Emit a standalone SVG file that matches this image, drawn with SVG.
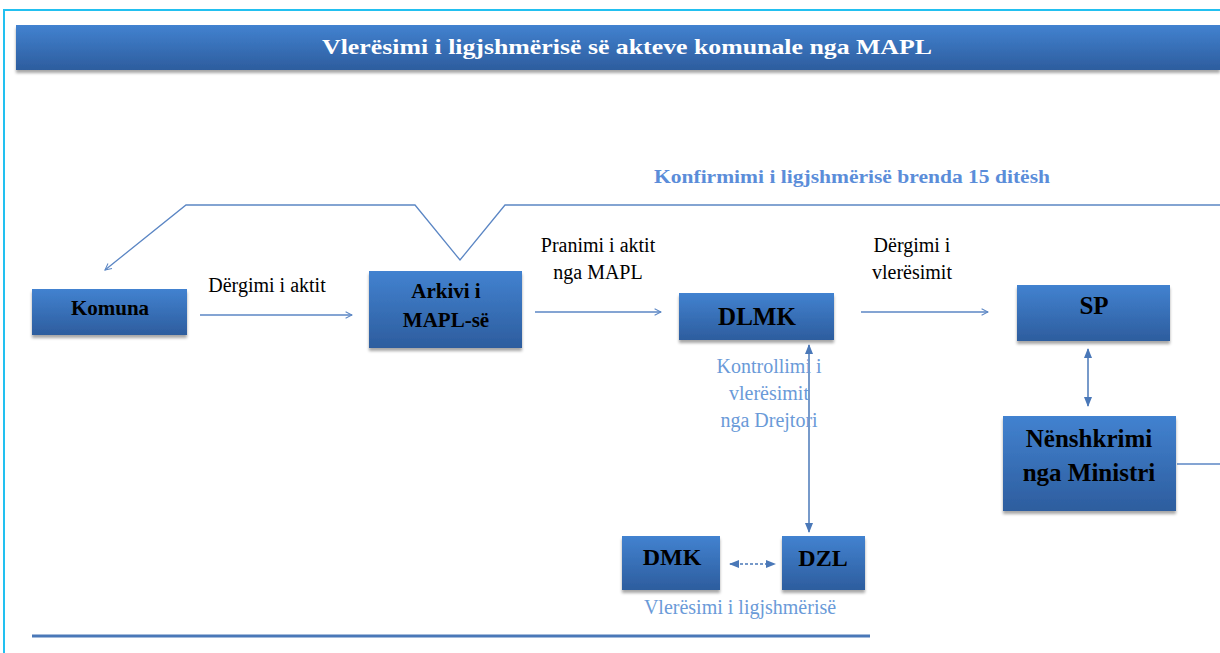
<svg xmlns="http://www.w3.org/2000/svg" width="1220" height="653" viewBox="0 0 1220 653" font-family="Liberation Serif, Times New Roman, serif">
<defs>
<linearGradient id="g" x1="0" y1="0" x2="0" y2="1">
<stop offset="0" stop-color="#4282d0"/>
<stop offset="1" stop-color="#2d5d9e"/>
</linearGradient>
<filter id="sh" x="-10%" y="-10%" width="120%" height="130%">
<feDropShadow dx="0" dy="3" stdDeviation="1.5" flood-color="#000" flood-opacity="0.35"/>
</filter>
<marker id="ah" viewBox="0 0 10 10" refX="9" refY="5" markerWidth="8" markerHeight="8" orient="auto-start-reverse" markerUnits="userSpaceOnUse">
<path d="M1,1 L9,5 L1,9" fill="none" stroke="#5b86c4" stroke-width="1.3"/>
</marker>
<marker id="af" viewBox="0 0 10 10" refX="9" refY="5" markerWidth="10" markerHeight="10" orient="auto-start-reverse" markerUnits="userSpaceOnUse">
<path d="M0,1 L10,5 L0,9 Z" fill="#4a78b8"/>
</marker>
</defs>
<style>
.box{fill:url(#g);filter:url(#sh)}
.bt{font-weight:bold;fill:#000;text-anchor:middle}
.lt{font-size:20px;fill:#000;text-anchor:middle}
.bl{font-size:20px;fill:#6a9ad8;text-anchor:middle}
.ln{fill:none;stroke:#5b86c4;stroke-width:1.3}
.da{fill:none;stroke:#4a78b8;stroke-width:1.5}
</style>
<rect x="0" y="0" width="1220" height="653" fill="#fff"/>
<path d="M4,653 L4,10 L1220,10" fill="none" stroke="#22c0f0" stroke-width="2"/>
<g id="title">
<rect x="16" y="25" width="1204" height="45" fill="url(#g)" filter="url(#sh)"/>
<text x="627" y="54" font-weight="bold" font-size="22" fill="#fff" text-anchor="middle" textLength="610" lengthAdjust="spacingAndGlyphs">Vlerësimi i ligjshmërisë së akteve komunale nga MAPL</text>
</g>
<g id="connectors">
<polyline class="ln" points="1220,205 505,205 460,260 415,205 186,205 105,270" marker-end="url(#ah)"/>
<line class="ln" x1="200" y1="315" x2="352" y2="315" marker-end="url(#ah)"/>
<line class="ln" x1="535" y1="312" x2="661" y2="312" marker-end="url(#ah)"/>
<line class="ln" x1="861" y1="312" x2="988" y2="312" marker-end="url(#ah)"/>
<line class="da" x1="1088" y1="349" x2="1088" y2="406" marker-start="url(#af)" marker-end="url(#af)"/>
<line class="da" x1="809" y1="345" x2="809" y2="532" marker-start="url(#af)" marker-end="url(#af)"/>
<line class="da" x1="730" y1="564" x2="775" y2="564" stroke-dasharray="3,2" marker-start="url(#af)" marker-end="url(#af)"/>
<line class="ln" x1="1177" y1="464" x2="1220" y2="464"/>
<line x1="32" y1="636" x2="870" y2="636" stroke="#4a78b8" stroke-width="3"/>
</g>
<text x="852" y="183" font-weight="bold" font-size="19" fill="#5b8dd9" text-anchor="middle" textLength="396" lengthAdjust="spacingAndGlyphs">Konfirmimi i ligjshmërisë  brenda 15 ditësh</text>
<text class="lt" x="267" y="292">Dërgimi i aktit</text>
<text class="lt" x="598" y="252">Pranimi i aktit</text>
<text class="lt" x="598" y="279">nga MAPL</text>
<text class="lt" x="912" y="252">Dërgimi i</text>
<text class="lt" x="912" y="279">vlerësimit</text>
<text class="bl" x="769" y="373">Kontrollimi i</text>
<text class="bl" x="769" y="400">vlerësimit</text>
<text class="bl" x="769" y="427">nga Drejtori</text>
<text class="bl" x="740" y="614">Vlerësimi i ligjshmërisë</text>
<g id="komuna"><rect class="box" x="32" y="289" width="155" height="46"/><text class="bt" x="110" y="315" font-size="21">Komuna</text></g>
<g id="arkivi"><rect class="box" x="369" y="271" width="153" height="77"/><text class="bt" x="446" y="298" font-size="21">Arkivi i</text><text class="bt" x="446" y="327" font-size="21">MAPL-së</text></g>
<g id="dlmk"><rect class="box" x="679" y="293" width="155" height="47"/><text class="bt" x="757" y="325" font-size="25">DLMK</text></g>
<g id="sp"><rect class="box" x="1017" y="285" width="153" height="56"/><text class="bt" x="1094" y="314" font-size="25">SP</text></g>
<g id="nenshkrimi"><rect class="box" x="1003" y="416" width="173" height="95"/><text class="bt" x="1089" y="447" font-size="25">Nënshkrimi</text><text class="bt" x="1089" y="481" font-size="25">nga Ministri</text></g>
<g id="dmk"><rect class="box" x="622" y="536" width="98" height="54"/><text class="bt" x="672" y="565" font-size="24">DMK</text></g>
<g id="dzl"><rect class="box" x="782" y="536" width="83" height="54"/><text class="bt" x="823" y="566" font-size="24">DZL</text></g>
</svg>
